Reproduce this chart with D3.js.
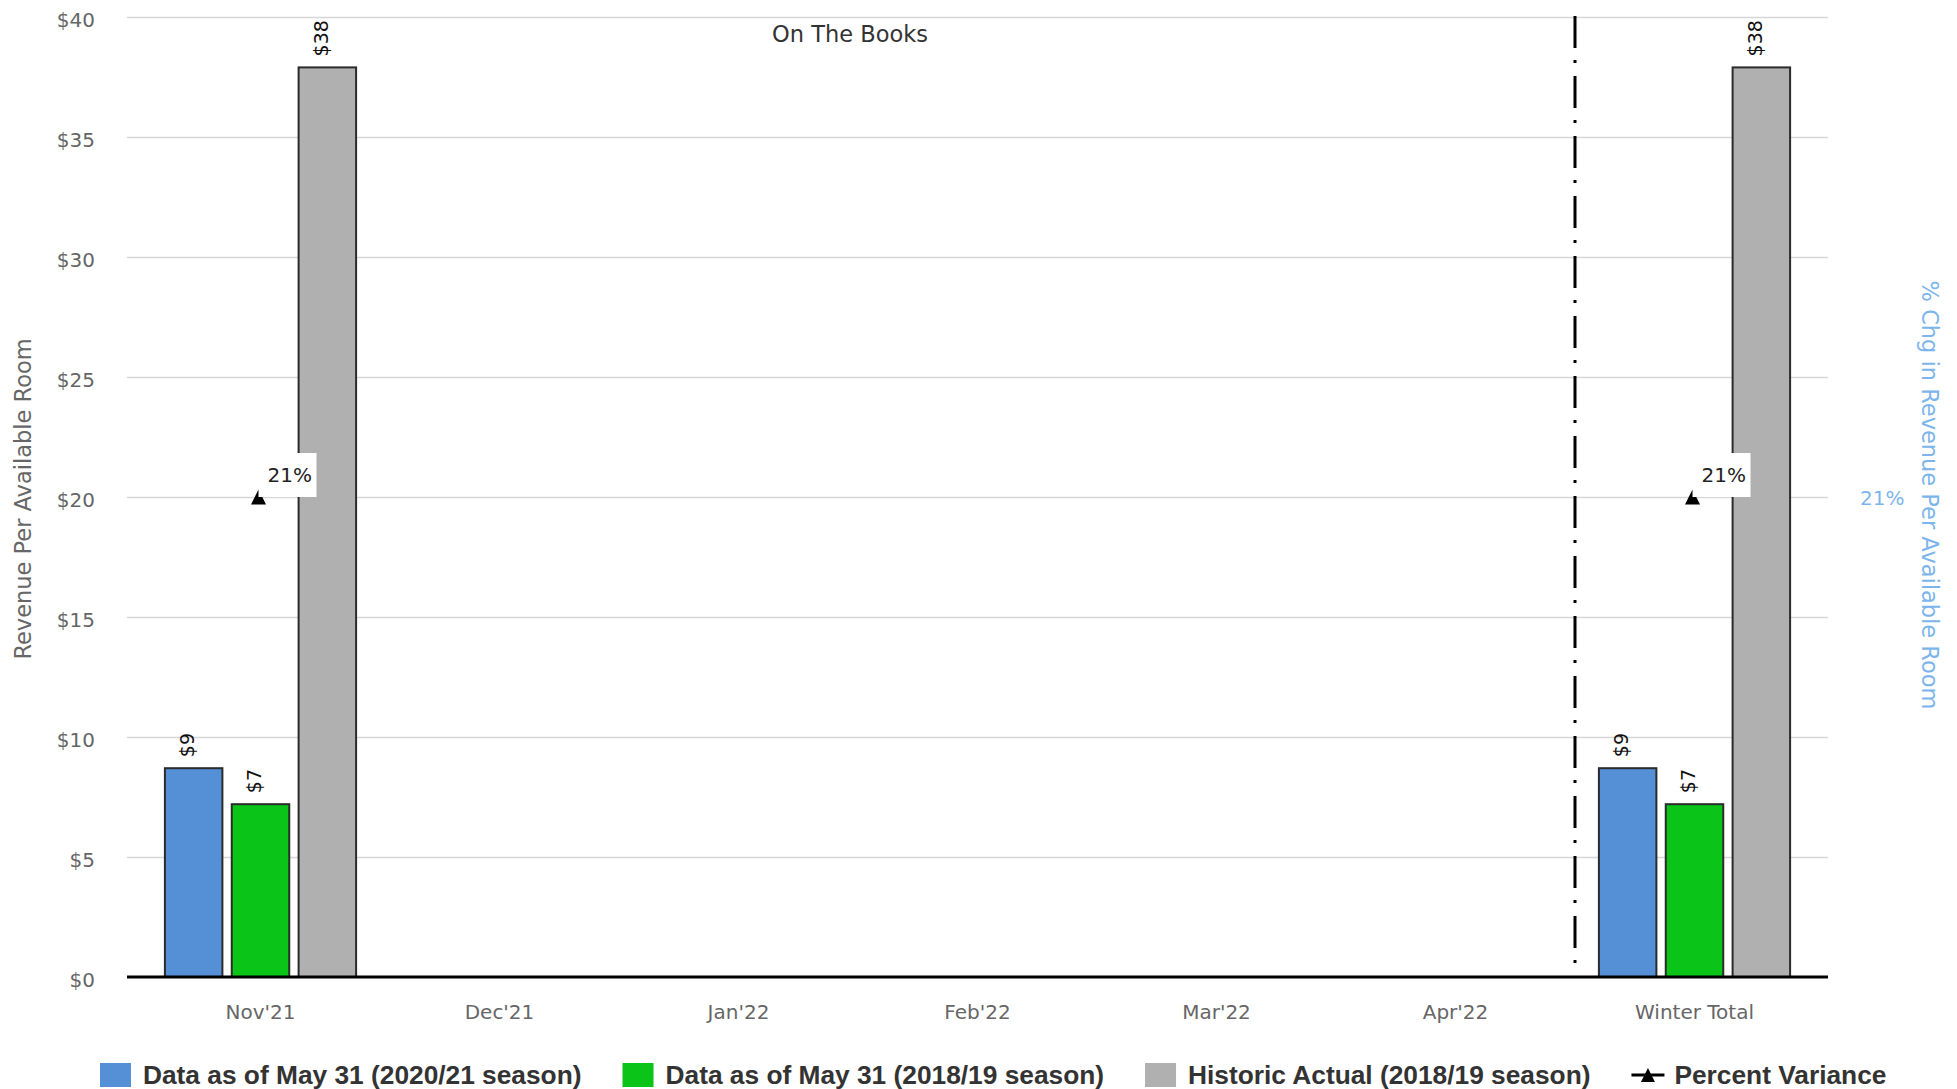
<!DOCTYPE html>
<html><head><meta charset="utf-8">
<script src="https://cdn.jsdelivr.net/npm/d3@7"></script>
<style>body{margin:0;background:#fff;} svg{display:block;}</style>
</head><body>
<svg id="chart" width="1957" height="1089"></svg>
<script>
// ---------- data ----------
const categories = ["Nov'21", "Dec'21", "Jan'22", "Feb'22", "Mar'22", "Apr'22", "Winter Total"];
const seriesNames = ["Data as of May 31 (2020/21 season)", "Data as of May 31 (2018/19 season)", "Historic Actual (2018/19 season)"];
const season2021 = [8.7, null, null, null, null, null, 8.7];
const season1819 = [7.2, null, null, null, null, null, 7.2];
const historic1819 = [37.9, null, null, null, null, null, 37.9];
const percentVariance = [21, null, null, null, null, null, 21];
const lineSeriesName = "Percent Variance";
const yTicks = [0, 5, 10, 15, 20, 25, 30, 35, 40];
const pctTicks = [21];
const leftTitle = "Revenue Per Available Room";
const rightTitle = "% Chg in Revenue Per Available Room";
const plotBandLabel = "On The Books";

// ---------- style ----------
const colors = ["#558fd6", "#0bc418", "#b0b0b0"];
const W = 1957, H = 1089;
const plot = {left: 127, right: 1828, top: 17, bottom: 977};
const font = "'DejaVu Sans', Verdana, sans-serif";

const svg = d3.select("#chart");

const y = d3.scaleLinear().domain([0, 40]).range([plot.bottom, plot.top]);
const yR = d3.scaleLinear().domain([20, 22]).range([plot.bottom, plot.top]);
const x = d3.scaleBand().domain(categories).range([141, 1814]).paddingInner(0).paddingOuter(0);
const groupW = x.bandwidth() * 0.8;
const xs = d3.scaleBand().domain([0, 1, 2]).range([0, groupW]).paddingInner(0.14).paddingOuter(0);
const groupOff = x.bandwidth() * 0.1;

// gridlines
const yAxisG = svg.append("g").attr("transform", `translate(${plot.left},0)`)
  .call(d3.axisLeft(y).tickValues(yTicks).tickSize(-(plot.right - plot.left)).tickFormat(d => "$" + d).tickPadding(32));
yAxisG.select(".domain").remove();
yAxisG.selectAll(".tick line").attr("stroke", "#d6d6d6").attr("stroke-width", 1.5)
  .filter(d => d === 0).remove();
yAxisG.selectAll(".tick text").attr("fill", "#666").style("font-family", font).style("font-size", "20px").attr("dy", "0.45em");

// right axis
const yRG = svg.append("g").attr("transform", `translate(${plot.right},0)`)
  .call(d3.axisRight(yR).tickValues(pctTicks).tickSize(0).tickFormat(d => d + "%").tickPadding(32));
yRG.select(".domain").remove();
yRG.selectAll(".tick text").attr("fill", "#7cb5ec").style("font-family", font).style("font-size", "20px").attr("dy", "0.35em");

// axis titles
svg.append("text").attr("transform", `translate(31,${(plot.top + plot.bottom) / 2 + 2}) rotate(-90)`)
  .attr("text-anchor", "middle").attr("fill", "#666").style("font-family", font).style("font-size", "22.5px")
  .text(leftTitle);
svg.append("text").attr("transform", `translate(1922,${(plot.top + plot.bottom) / 2 - 2}) rotate(90)`)
  .attr("text-anchor", "middle").attr("fill", "#7cb5ec").style("font-family", font).style("font-size", "22.5px")
  .text(rightTitle);

// plot band label
const sepX = x("Winter Total");
svg.append("text").attr("x", (x(categories[0]) + sepX) / 2 - 8).attr("y", 42)
  .attr("text-anchor", "middle").attr("fill", "#333").style("font-family", font).style("font-size", "22.5px")
  .text(plotBandLabel);

// bars
const barSeries = [season2021, season1819, historic1819];
const barData = [];
barSeries.forEach((vals, si) => vals.forEach((v, ci) => { if (v !== null) barData.push({si, cat: categories[ci], v}); }));

svg.append("g").selectAll("rect").data(barData).join("rect")
  .attr("x", d => x(d.cat) + groupOff + xs(d.si))
  .attr("y", d => y(d.v))
  .attr("width", xs.bandwidth())
  .attr("height", d => y(0) - y(d.v))
  .attr("fill", d => colors[d.si])
  .attr("stroke", "#2b2b2b").attr("stroke-width", 2);

// bar data labels
svg.append("g").selectAll("text").data(barData).join("text")
  .attr("transform", d => `translate(${x(d.cat) + groupOff + xs(d.si) + xs.bandwidth() / 2 - 6},${y(d.v) - 11}) rotate(-90)`)
  .attr("dy", "0.35em")
  .attr("fill", "#111").style("font-family", font).style("font-size", "19px")
  .text(d => "$" + Math.round(d.v));

// x axis line
const xAxisG = svg.append("g").attr("transform", `translate(0,${plot.bottom})`)
  .call(d3.axisBottom(x).tickSize(0).tickPadding(28));
xAxisG.select(".domain").remove();
xAxisG.selectAll(".tick text").attr("fill", "#666").style("font-family", font).style("font-size", "20px");
svg.append("line").attr("x1", plot.left).attr("x2", plot.right).attr("y1", plot.bottom).attr("y2", plot.bottom)
  .attr("stroke", "#000").attr("stroke-width", 3);

// dash-dot separator
svg.append("line").attr("x1", sepX).attr("x2", sepX).attr("y1", plot.top - 1).attr("y2", plot.bottom - 2)
  .attr("stroke", "#000").attr("stroke-width", 3).attr("stroke-dasharray", "32,12,3,13");

// percent variance markers + labels
const tri = (r) => `M0,${-r}L${r},${r}L${-r},${r}Z`;
const pctData = percentVariance.map((v, i) => ({v, cat: categories[i]})).filter(d => d.v !== null);
const pg = svg.append("g").selectAll("g").data(pctData).join("g")
  .attr("transform", d => `translate(${x(d.cat) + x.bandwidth() / 2 - 2},${yR(d.v)})`);
pg.append("path").attr("d", tri(7.5)).attr("fill", "#000");
pg.append("rect").attr("x", 0).attr("y", -44).attr("width", 58).attr("height", 44).attr("fill", "#fff");
pg.append("text").attr("x", 9).attr("y", -15).attr("fill", "#222")
  .style("font-family", font).style("font-size", "20px").text(d => d.v + "%");

// legend
const legend = svg.append("g");
const legendItems = seriesNames.map((n, i) => ({name: n, type: "bar", color: colors[i]}))
  .concat([{name: lineSeriesName, type: "line"}]);
let lx = 100;
const ly = 1075;
legendItems.forEach(it => {
  const g = legend.append("g").attr("transform", `translate(${lx},0)`);
  if (it.type === "bar") {
    g.append("rect").attr("x", 0).attr("y", ly - 12).attr("width", 31).attr("height", 24).attr("fill", it.color);
  } else {
    g.append("line").attr("x1", 0).attr("x2", 33).attr("y1", ly).attr("y2", ly).attr("stroke", "#000").attr("stroke-width", 3);
    g.append("path").attr("transform", `translate(16.5,${ly})`).attr("d", tri(7)).attr("fill", "#000");
  }
  const t = g.append("text").attr("x", 43).attr("y", ly + 9).attr("fill", "#333")
    .style("font-family", "'Liberation Sans', Arial, sans-serif").style("font-weight", "bold").style("font-size", "26.3px")
    .text(it.name);
  lx += 43 + t.node().getComputedTextLength() + 41;
});
</script>
</body></html>
